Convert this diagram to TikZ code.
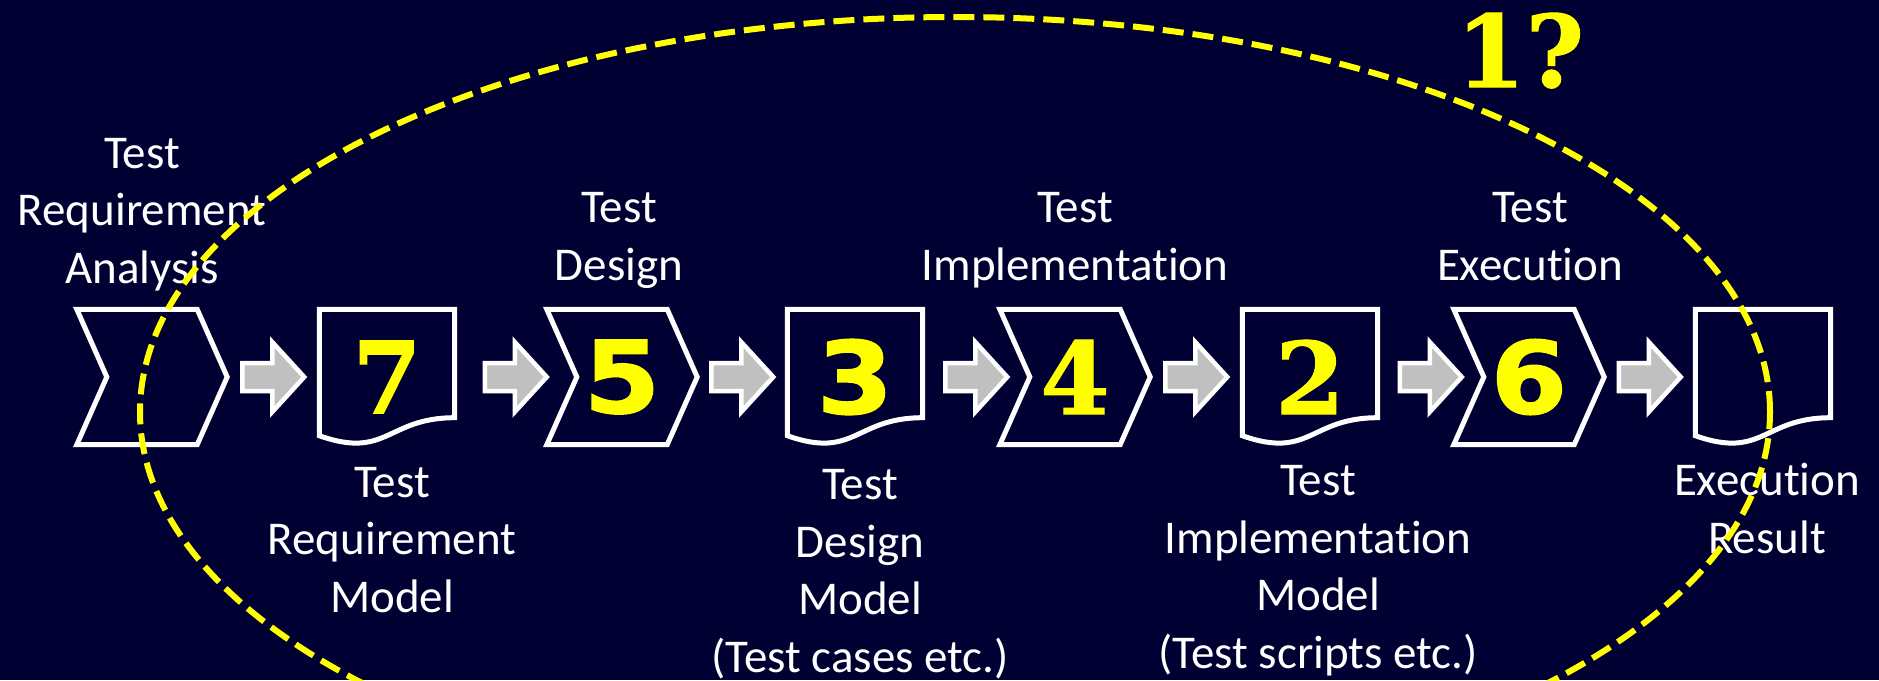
\documentclass[tikz,border=0pt]{standalone}
\usepackage{fontspec}
\setmainfont{Carlito}[Ligatures=NoCommon]
\newfontfamily\numsans{DejaVu Sans}[BoldFeatures={FakeBold=1.5,FakeStretch=1.1}]
\newfontfamily\numslab{DejaVu Serif}[BoldFeatures={FakeBold=1}]
\usepackage{tikz}
\usetikzlibrary{calc}
\definecolor{navy}{RGB}{0,0,51}
\definecolor{hiyel}{RGB}{255,255,0}
\definecolor{pipe}{RGB}{192,192,192}
\tikzset{
  stagebox/.style={minimum width=150pt,minimum height=135pt,inner sep=0pt},
  docbox/.style={minimum width=135pt,minimum height=135pt,inner sep=0pt},
  outl/.style={draw=white,line width=5pt},
  blk/.style={draw=white,fill=pipe,line width=4.5pt},
  lbl/.style={text=white,align=center,inner sep=0pt,anchor=base,font=\fontsize{47}{57.5}\selectfont},
  nsans/.style={text=hiyel,font=\numsans\bfseries\fontsize{100}{100}\selectfont},
  nslab/.style={text=hiyel,font=\numslab\bfseries\fontsize{100}{100}\selectfont},
  ring/.style={draw=hiyel,line width=6pt,dash pattern=on 21pt off 9pt}
}
\newcommand{\chev}[1]{\draw[outl] (#1.north west) -- ([xshift=-30pt]#1.north east) -- (#1.east)
  -- ([xshift=-30pt]#1.south east) -- (#1.south west) -- ([xshift=30pt]#1.west) -- cycle;}
\newcommand{\docu}[1]{\draw[outl] (#1.north west) -- (#1.north east) -- ([yshift=27pt]#1.south east)
  .. controls ([yshift=27pt]#1.south) and ([yshift=-15pt]#1.south) .. ([yshift=9pt]#1.south west) -- cycle;}
\newcommand{\flowto}[3]{\draw[blk] ($(#1.east)!0.5!([xshift=#3]#2.west)$) ++(-31,0) -- ++(0,-14) -- ++(30,0)
  -- ++(0,-21) -- ++(32,35) -- ++(-32,35) -- ++(0,-21) -- ++(-30,0) -- cycle;}

\begin{document}
\begin{tikzpicture}[x=1pt,y=-1pt]
\fill[navy] (0,0) rectangle (1879,680);
\useasboundingbox (0,0) rectangle (1879,680);
% activities and artefacts
\node[stagebox] (ana) at (152,377) {};
\node[docbox,nslab] (reqm) at (387,377) {7};
\node[stagebox,nsans] (des) at (622,377) {5};
\node[docbox,nsans] (desm) at (855,377) {3};
\node[stagebox,nslab] (impl) at (1075,377) {4};
\node[docbox,nslab] (implm) at (1310,377) {2};
\node[stagebox,nsans] (exe) at (1529,377) {6};
\node[docbox] (res) at (1763,377) {};
\foreach \n in {ana,des,impl,exe} {\chev{\n}}
\foreach \n in {reqm,desm,implm,res} {\docu{\n}}
% block arrows
\flowto{ana}{reqm}{0pt}
\flowto{reqm}{des}{30pt}
\flowto{des}{desm}{0pt}
\flowto{desm}{impl}{30pt}
\flowto{impl}{implm}{0pt}
\flowto{implm}{exe}{30pt}
\flowto{exe}{res}{0pt}
% captions (base = last line)
\node[lbl] at (142,283) {Test\\Requirement\\Analysis};
\node[lbl] at (619,280) {Test\\Design};
\node[lbl] at (1075,280) {Test\\Implementation};
\node[lbl] at (1530,280) {Test\\Execution};
\node[lbl] at (392,612) {Test\\Requirement\\Model};
\node[lbl] at (860,672) {Test\\Design\\Model\\(Test cases etc.)};
\node[lbl] at (1318,668) {Test\\Implementation\\Model\\(Test scripts etc.)};
\node[lbl] at (1767,553) {Execution\\Result};
% dashed loop
\begin{scope}
\clip (0,0) rectangle (1879,680);
\draw[ring] (955,412) ellipse [x radius=815pt, y radius=395pt];
\end{scope}
\node[nslab,anchor=base] (qmark) at (1520,87) {1?};
\end{tikzpicture}
\end{document}
